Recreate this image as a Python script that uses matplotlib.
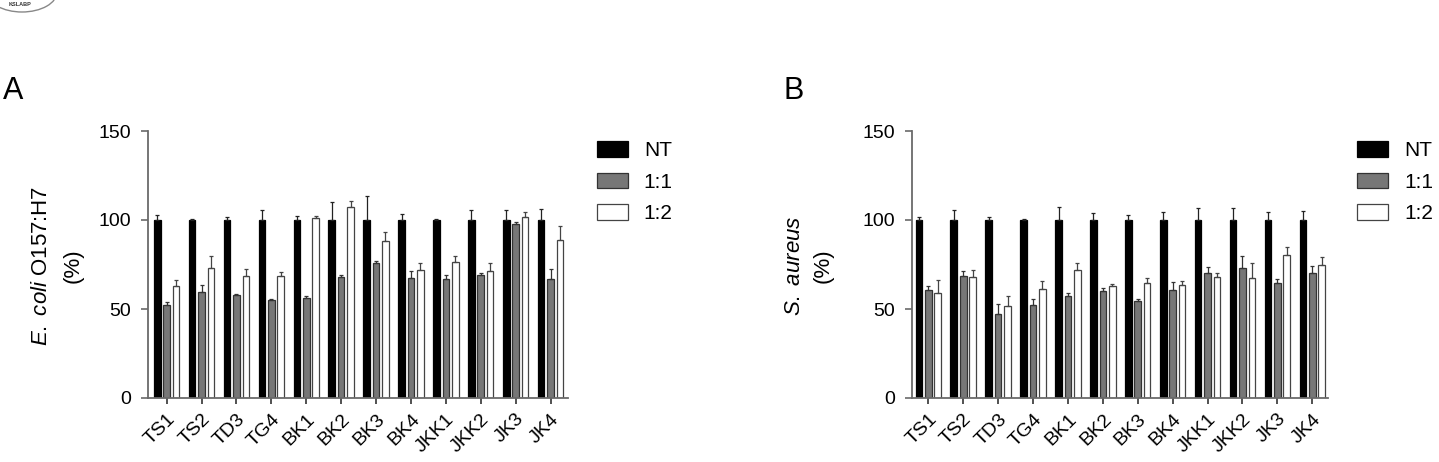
import matplotlib
matplotlib.use("Agg")
import matplotlib.pyplot as plt
from matplotlib.patches import Patch, Ellipse
import numpy as np

plt.rcParams['font.family'] = ['Liberation Sans', 'DejaVu Sans']
plt.rcParams['mathtext.fontset'] = 'custom'
plt.rcParams['mathtext.rm'] = 'Liberation Sans'
plt.rcParams['mathtext.it'] = 'Liberation Sans:italic'

categories = ["TS1", "TS2", "TD3", "TG4", "BK1", "BK2", "BK3", "BK4", "JKK1", "JKK2", "JK3", "JK4"]
series_names = ["NT", "1:1", "1:2"]

# Panel A: E. coli O157:H7
ecoli_nt = [100, 100, 100, 100, 100, 100, 100, 100, 100, 100, 100, 100]
ecoli_nt_err = [2.8, 0.5, 1.5, 5.6, 2.4, 10, 13.5, 3.4, 0.5, 5.4, 5.4, 6.2]
ecoli_11 = [52, 59.4, 57.6, 54.8, 56.3, 68.2, 75.7, 67.5, 67, 69.2, 97.8, 67]
ecoli_11_err = [2, 4, 1, 1, 1, 1, 1.5, 3.7, 2.2, 1, 1, 5.2]
ecoli_12 = [63.2, 73, 68.8, 68.8, 101, 107.5, 88, 72, 76.3, 71.2, 101.5, 89]
ecoli_12_err = [3, 7, 3.4, 2, 1, 3, 5, 3.6, 3.4, 4.5, 2.8, 7.8]

# Panel B: S. aureus
saur_nt = [100, 100, 100, 100, 100, 100, 100, 100, 100, 100, 100, 100]
saur_nt_err = [1.5, 5.6, 1.5, 0.3, 7.5, 3.8, 2.8, 4.3, 6.8, 6.8, 4.3, 5.3]
saur_11 = [60.7, 68.6, 47.4, 52, 57.3, 60.2, 54.5, 60.5, 70, 73.3, 64.8, 70]
saur_11_err = [2, 2.8, 5.3, 3.8, 1.9, 1.5, 1, 4.9, 3.4, 6.2, 1.9, 4.3]
saur_12 = [59.2, 68, 51.7, 61.3, 72, 63, 64.8, 63.5, 67.7, 67.3, 80.3, 74.5]
saur_12_err = [7, 4, 5.8, 4.7, 4, 1, 2.8, 2.3, 2.8, 8.8, 4.7, 4.5]

yticks = [0, 50, 100, 150]

W, H = 1439, 462
fig = plt.figure(figsize=(W / 100, H / 100), dpi=100)

fills = ["#000000", "#777777", "#ffffff"]
edges = ["#000000", "#333333", "#444444"]
offsets = [-0.27, 0.0, 0.27]
bw = 0.19
spine_c = "#6a6a6a"


def panel(rect, xlim, vals, errs, ylabel_lines, label, label_x, ylab_x, legend_anchor):
    ax = fig.add_axes(rect)
    x = np.arange(len(categories))
    for k in range(3):
        ax.bar(x + offsets[k], vals[k], width=bw, color=fills[k], edgecolor=edges[k],
               linewidth=0.9, zorder=2, label=series_names[k])
        ax.errorbar(x + offsets[k], vals[k], yerr=[np.zeros(len(categories)), errs[k]],
                    fmt='none', ecolor=edges[k] if k else "#222222", elinewidth=0.9,
                    capsize=1.5, capthick=0.9, zorder=3)
    ax.set_xlim(*xlim)
    ax.set_ylim(0, 150)
    ax.set_yticks(yticks)
    ax.set_xticks(x)
    ax.set_xticklabels(categories, rotation=45, ha='right', rotation_mode='anchor',
                       fontsize=14)
    ax.tick_params(axis='y', labelsize=14, length=5, width=1.2, color=spine_c, pad=7)
    ax.tick_params(axis='x', length=4, width=1.2, color="#333333", pad=5)
    for s in ['top', 'right']:
        ax.spines[s].set_visible(False)
    for s in ['left', 'bottom']:
        ax.spines[s].set_color(spine_c)
        ax.spines[s].set_linewidth(1.3)
    # y label (two lines)
    cy = 1 - 266 / H
    fig.text(ylab_x[0] / W, cy, ylabel_lines[0], rotation=90, ha='center', va='center',
             fontsize=16)
    fig.text(ylab_x[1] / W, cy, ylabel_lines[1], rotation=90, ha='center', va='center',
             fontsize=16)
    fig.text(label_x / W, 1 - 91 / H, label, ha='left', va='center', fontsize=22)
    handles = [Patch(facecolor=fills[k], edgecolor=edges[k], linewidth=0.9)
               for k in range(3)]
    ax.legend(handles, series_names, loc='upper left', bbox_to_anchor=legend_anchor,
              frameon=False, fontsize=15, handlelength=1.5, handleheight=0.75,
              labelspacing=0.6, handletextpad=0.75, borderaxespad=0, borderpad=0)
    return ax


panel([148 / W, 1 - 398 / H, 420 / W, 267 / H], (-0.536, 11.5),
      [ecoli_nt, ecoli_11, ecoli_12], [ecoli_nt_err, ecoli_11_err, ecoli_12_err],
      [r'$\mathit{E.\ coli}$ O157:H7', '(%)'], "A", 3, (42, 73),
      (1.069, 0.962))
panel([912 / W, 1 - 398 / H, 416 / W, 267 / H], (-0.467, 11.45),
      [saur_nt, saur_11, saur_12], [saur_nt_err, saur_11_err, saur_12_err],
      [r'$\mathit{S.\ aureus}$', '(%)'], "B", 784, (794, 823),
      (1.07, 0.962))

# partial logo in the top-left corner
logo_ax = fig.add_axes([0, 0, 1, 1], facecolor='none')
logo_ax.set_xlim(0, W)
logo_ax.set_ylim(H, 0)
logo_ax.axis('off')
logo_ax.add_patch(Ellipse((22, -8), 70, 40, fill=False, edgecolor="#888888", lw=1.0))
logo_ax.text(20, 5, "KSLABP", fontsize=4, ha='center', va='center', color="#333333",
             fontweight='bold')

fig.savefig("out.png", dpi=100)
